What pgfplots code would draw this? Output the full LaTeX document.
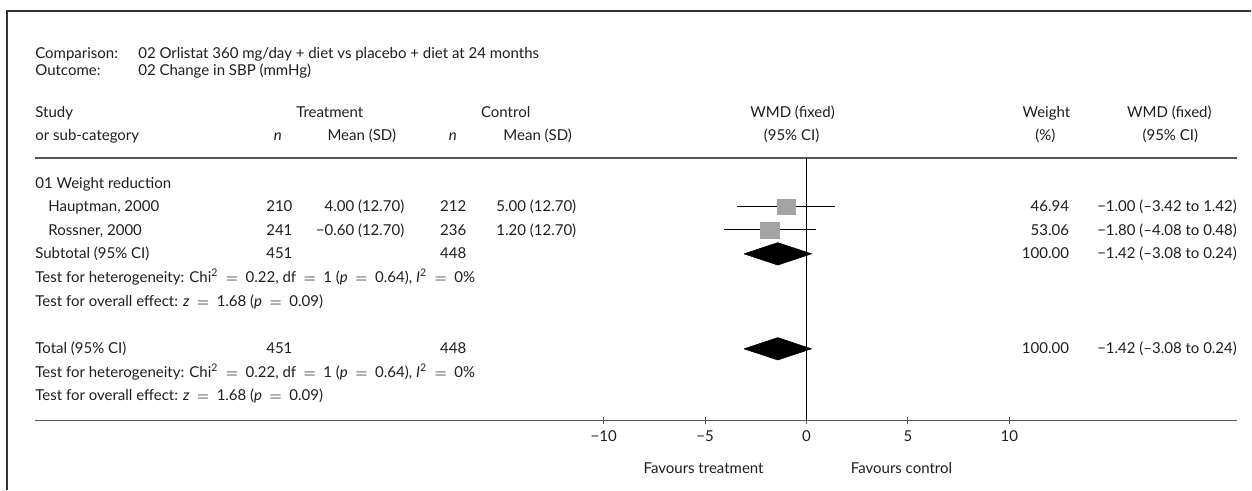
\documentclass[border=0pt]{standalone}
\usepackage{pgfplots}
\pgfplotsset{compat=1.18}
\usepackage{fontspec}
\setmainfont{Lato}
\definecolor{rulec}{HTML}{555555}
\definecolor{sqc}{HTML}{A3A3A3}
\definecolor{txt}{HTML}{1E1E1E}
\newcommand{\eq}{\hspace{0.5em}$=$\hspace{0.5em}}
\begin{document}
\fontsize{7.5}{9}\selectfont
\begin{tikzpicture}[
  tl/.style={anchor=base west, inner sep=0pt, text=txt},
  tr/.style={anchor=base east, inner sep=0pt, text=txt},
  tc/.style={anchor=base, inner sep=0pt, text=txt}]
\begin{axis}[name=ax, scale only axis, width=601.5pt, height=131.5pt,
  xmin=-38.0296, xmax=21.2315, ymin=-421, ymax=-158,
  axis x line*=bottom, axis y line=none,
  x axis line style={rulec, line width=0.6pt},
  xtick={-10,-5,0,5,10}, xticklabels={−10,−5,0,5,10},
  tick align=center, major tick length=3.5pt,
  tick style={rulec, line width=0.5pt},
  xticklabel style={anchor=base, text=txt, font=\fontsize{7.5}{9}\selectfont, yshift=-8.5pt},
  clip=false]
% top rule and line of no effect
\addplot[rulec, line width=0.6pt] coordinates {(-38.0296,-158) (21.2315,-158)};
\addplot[black, line width=0.5pt] coordinates {(0,-158) (0,-421)};
% confidence intervals
\addplot[black, line width=0.5pt] coordinates {(-3.42,-207) (1.42,-207)};
\addplot[black, line width=0.5pt] coordinates {(-4.08,-229.5) (0.48,-229.5)};
% study estimates
\addplot[only marks, mark=square*, mark size=3.75pt, mark options={xscale=1.2, fill=sqc, draw=sqc}] coordinates {(-1.00,-207)};
\addplot[only marks, mark=square*, mark size=3.85pt, mark options={xscale=1.24, fill=sqc, draw=sqc}] coordinates {(-1.80,-230.5)};
% pooled estimates (diamonds)
\addplot[fill=black, draw=black, line width=0.3pt] coordinates {(-3.08,-254) (-1.42,-242.8) (0.24,-254) (-1.42,-265.2) (-3.08,-254)};
\addplot[fill=black, draw=black, line width=0.3pt] coordinates {(-3.08,-349) (-1.42,-337.8) (0.24,-349) (-1.42,-360.2) (-3.08,-349)};
\end{axis}
\begin{scope}[shift={(ax.south west)}, x=0.5pt, y=-0.5pt, shift={(-17.5pt,210.5pt)}]
\path (0,0) rectangle (1252,490);
\draw[line width=0.75pt, black!80] (1252,11) -- (7,11) -- (7,490);
% title block
\node[tl] at (35,59) {Comparison:};
\node[tl] at (138,59) {02 Orlistat 360 mg/day + diet vs placebo + diet at 24 months};
\node[tl] at (35,76) {Outcome:};
\node[tl] at (138,76) {02 Change in SBP (mmHg)};
% headers
\node[tl] at (35,118) {Study};
\node[tl] at (35,141) {or sub-category};
\node[tc] at (330,118) {Treatment};
\node[tc] at (506,118) {Control};
\node[tc] at (793,118) {WMD (fixed)};
\node[tc] at (1047,118) {Weight};
\node[tc] at (1170,118) {WMD (fixed)};
\node[tc] at (278,141) {\textit{n}};
\node[tc] at (362,141) {Mean (SD)};
\node[tc] at (453,141) {\textit{n}};
\node[tc] at (538,141) {Mean (SD)};
\node[tc] at (792,141) {(95\% CI)};
\node[tc] at (1046,141) {(\%)};
\node[tc] at (1171,141) {(95\% CI)};
% group
\node[tl] at (35,189) {01 Weight reduction};
% Hauptman
\node[tl] at (48,212) {Hauptman, 2000};
\node[tr] at (293,212) {210};
\node[tr] at (405,212) {4.00 (12.70)};
\node[tr] at (467,212) {212};
\node[tr] at (577,212) {5.00 (12.70)};
\node[tr] at (1070,212) {46.94};
\node[tr] at (1238,212) {−1.00 (–3.42 to 1.42)};
% Rossner
\node[tl] at (48,235.5) {Rossner, 2000};
\node[tr] at (293,235.5) {241};
\node[tr] at (405,235.5) {−0.60 (12.70)};
\node[tr] at (467,235.5) {236};
\node[tr] at (577,235.5) {1.20 (12.70)};
\node[tr] at (1070,235.5) {53.06};
\node[tr] at (1238,235.5) {−1.80 (–4.08 to 0.48)};
% Subtotal
\node[tl] at (35,259) {Subtotal (95\% CI)};
\node[tr] at (293,259) {451};
\node[tr] at (467,259) {448};
\node[tr] at (1070,259) {100.00};
\node[tr] at (1238,259) {−1.42 (–3.08 to 0.24)};
\node[tl] at (35,283) {Test for heterogeneity: Chi\textsuperscript{2}\eq 0.22, df\eq 1 (\textit{p}\eq 0.64), \textit{I}\textsuperscript{2}\eq 0\%};
\node[tl] at (35,306.5) {Test for overall effect: \textit{z}\eq 1.68 (\textit{p}\eq 0.09)};
% Total
\node[tl] at (35,354) {Total (95\% CI)};
\node[tr] at (293,354) {451};
\node[tr] at (467,354) {448};
\node[tr] at (1070,354) {100.00};
\node[tr] at (1238,354) {−1.42 (–3.08 to 0.24)};
\node[tl] at (35,377.5) {Test for heterogeneity: Chi\textsuperscript{2}\eq 0.22, df\eq 1 (\textit{p}\eq 0.64), \textit{I}\textsuperscript{2}\eq 0\%};
\node[tl] at (35,401) {Test for overall effect: \textit{z}\eq 1.68 (\textit{p}\eq 0.09)};
% favours
\node[tc] at (704,474) {Favours treatment};
\node[tc] at (902,474) {Favours control};
\end{scope}
\end{tikzpicture}
\end{document}
